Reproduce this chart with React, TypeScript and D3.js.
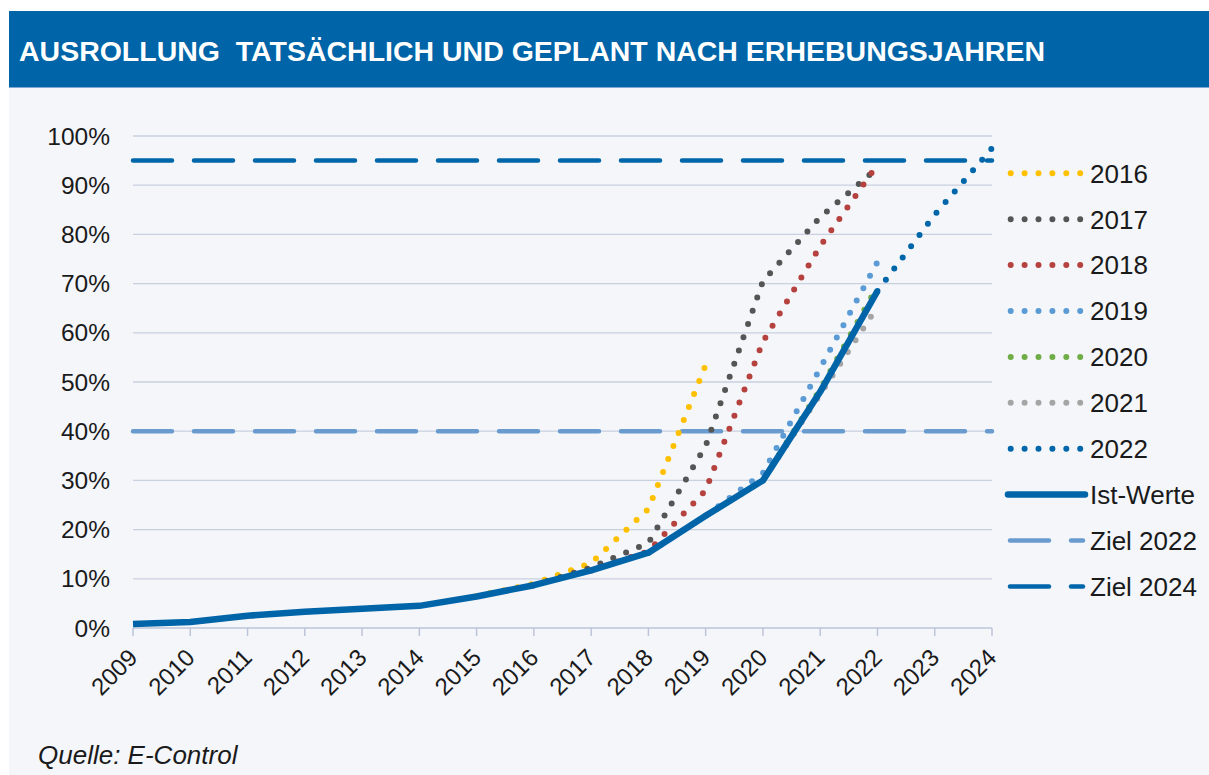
import React from "react";
import * as d3 from "d3";

const W = 1209;
const H = 775;

const years = d3.range(2009, 2025);
const yTicks = [0, 10, 20, 30, 40, 50, 60, 70, 80, 90, 100];

// Ist-Werte (actual), 2009..2022
const actualYears = [2009, 2010, 2011, 2012, 2013, 2014, 2015, 2016, 2017, 2018, 2019, 2020, 2021, 2022];
const actualValues = [0.8, 1.2, 2.5, 3.3, 3.9, 4.5, 6.4, 8.7, 11.7, 15.3, 22.8, 30.0, 48.0, 68.5];

// Planned rollout by survey year
const plan2016Years = [2015, 2016, 2017, 2018, 2019];
const plan2016Values = [6.5, 9.0, 13.2, 24.2, 53.5];
const plan2017Years = [2016, 2017, 2018, 2019, 2020, 2021, 2022];
const plan2017Values = [8.7, 12.3, 17.3, 37.0, 70.5, 83.5, 93.5];
const plan2018Years = [2017, 2018, 2019, 2020, 2021, 2022];
const plan2018Values = [11.7, 15.6, 28.0, 58.2, 77.6, 94.2];
const plan2019Years = [2018, 2019, 2020, 2021, 2022];
const plan2019Values = [15.3, 22.8, 31.5, 52.8, 74.4];
const plan2020Years = [2019, 2020, 2021, 2022];
const plan2020Values = [22.8, 30.0, 48.5, 69.5];
const plan2021Years = [2020, 2021, 2022];
const plan2021Values = [30.0, 47.5, 65.3];
const plan2022Years = [2022, 2023, 2024];
const plan2022Values = [68.5, 84.0, 97.5];

const target2022 = 40;
const target2024 = 95;

const seriesNames = ["2016", "2017", "2018", "2019", "2020", "2021", "2022"];
const seriesColors = ["#ffc000", "#555555", "#b5423e", "#5b9bd5", "#70ad47", "#a5a5a5", "#0066aa"];

const ACTUAL_COLOR = "#0064a8";
const Z22_COLOR = "#6a9bcf";
const Z24_COLOR = "#0066aa";
const FONT = "'Liberation Sans', Arial, sans-serif";

export default function App() {
  const x = d3.scaleLinear().domain([2009, 2024]).range([133, 992]);
  const y = d3.scaleLinear().domain([0, 100]).range([628, 136]);

  const line = d3
    .line<[number, number]>()
    .x((d) => x(d[0]))
    .y((d) => y(d[1]));

  const zip = (ys: number[], vs: number[]) => ys.map((yr, i) => [yr, vs[i]] as [number, number]);

  const plans = [
    zip(plan2016Years, plan2016Values),
    zip(plan2017Years, plan2017Values),
    zip(plan2018Years, plan2018Values),
    zip(plan2019Years, plan2019Values),
    zip(plan2020Years, plan2020Values),
    zip(plan2021Years, plan2021Values),
    zip(plan2022Years, plan2022Values),
  ];
  const actual = zip(actualYears, actualValues);

  const legendY0 = 173.3;
  const legendStep = 45.9;
  const legendX1 = 1010.7;
  const legendTextX = 1090;

  return (
    <svg
      width={W}
      height={H}
      style={{ position: "absolute", left: 0, top: 0, background: "#ffffff" }}
      fontFamily={FONT}
    >
      <rect x={9} y={11} width={W - 9} height={77} fill="#0064a8" />
      <rect x={9} y={87} width={W - 9} height={1} fill="#7fa9d4" />
      <rect x={9} y={88} width={W - 9} height={H - 88} fill="#f4f6fa" />
      <text
        x={19}
        y={61}
        fill="#ffffff"
        fontWeight="bold"
        fontSize={27}
        textLength={1026}
        lengthAdjust="spacingAndGlyphs"
        style={{ whiteSpace: "pre" }}
      >
        {"AUSROLLUNG  TATSÄCHLICH UND GEPLANT NACH ERHEBUNGSJAHREN"}
      </text>

      {/* gridlines */}
      {yTicks.slice(1).map((t) => (
        <line key={t} x1={x(2009)} x2={x(2024)} y1={y(t)} y2={y(t)} stroke="#c9d0df" strokeWidth={1.3} />
      ))}
      {/* y labels */}
      {yTicks.map((t) => (
        <text
          key={"yl" + t}
          x={110}
          y={y(t)}
          dy="0.35em"
          textAnchor="end"
          fontSize={24.5}
          fill="#1a1a1a"
        >
          {t}%
        </text>
      ))}
      {/* x axis */}
      <line x1={x(2009)} x2={x(2024)} y1={y(0)} y2={y(0)} stroke="#bcc5d8" strokeWidth={1.5} />
      {years.map((yr) => (
        <line key={"t" + yr} x1={x(yr)} x2={x(yr)} y1={y(0)} y2={y(0) + 8} stroke="#bcc5d8" strokeWidth={1.5} />
      ))}
      {years.map((yr) => (
        <text
          key={"xl" + yr}
          transform={`translate(${x(yr) + 6},${y(0) + 31}) rotate(-45)`}
          textAnchor="end"
          fontSize={24}
          fill="#1a1a1a"
        >
          {yr}
        </text>
      ))}

      {/* targets */}
      <line
        x1={x(2009)}
        x2={x(2024)}
        y1={y(target2022)}
        y2={y(target2022)}
        stroke={Z22_COLOR}
        strokeWidth={4.5}
        strokeDasharray="39 22"
        strokeLinecap="round"
      />
      <line
        x1={x(2009)}
        x2={x(2024)}
        y1={y(target2024)}
        y2={y(target2024)}
        stroke={Z24_COLOR}
        strokeWidth={4.5}
        strokeDasharray="39 22"
        strokeLinecap="round"
      />

      {/* plans */}
      {plans.map((p, i) => (
        <path
          key={"p" + i}
          d={line(p) || ""}
          fill="none"
          stroke={seriesColors[i]}
          strokeWidth={6}
          strokeDasharray="0 14"
          strokeLinecap="round"
        />
      ))}

      {/* actual */}
      <path d={line(actual) || ""} fill="none" stroke={ACTUAL_COLOR} strokeWidth={6.5} strokeLinejoin="round" />

      {/* legend */}
      {seriesNames.map((n, i) => {
        const ly = legendY0 + i * legendStep;
        return (
          <g key={"lg" + n}>
            <line
              x1={legendX1}
              x2={legendX1 + 70}
              y1={ly}
              y2={ly}
              stroke={seriesColors[i]}
              strokeWidth={6}
              strokeDasharray="0 13.9"
              strokeLinecap="round"
            />
            <text x={legendTextX} y={ly} dy="0.36em" fontSize={26} fill="#1a1a1a">
              {n}
            </text>
          </g>
        );
      })}
      {(() => {
        const ly = legendY0 + 7 * legendStep;
        return (
          <g>
            <line x1={1008} x2={1085} y1={ly} y2={ly} stroke={ACTUAL_COLOR} strokeWidth={6.5} strokeLinecap="round" />
            <text x={legendTextX} y={ly} dy="0.36em" fontSize={26} fill="#1a1a1a">
              Ist-Werte
            </text>
          </g>
        );
      })()}
      {[
        ["Ziel 2022", Z22_COLOR],
        ["Ziel 2024", Z24_COLOR],
      ].map(([label, c], i) => {
        const ly = legendY0 + (8 + i) * legendStep;
        return (
          <g key={label}>
            <line x1={1010} x2={1049} y1={ly} y2={ly} stroke={c} strokeWidth={4.5} strokeLinecap="round" />
            <line x1={1071} x2={1083} y1={ly} y2={ly} stroke={c} strokeWidth={4.5} strokeLinecap="round" />
            <text x={legendTextX} y={ly} dy="0.36em" fontSize={26} fill="#1a1a1a">
              {label}
            </text>
          </g>
        );
      })}

      <text x={38} y={764} fontSize={26} fontStyle="italic" fill="#1a1a1a">
        Quelle: E-Control
      </text>
    </svg>
  );
}
